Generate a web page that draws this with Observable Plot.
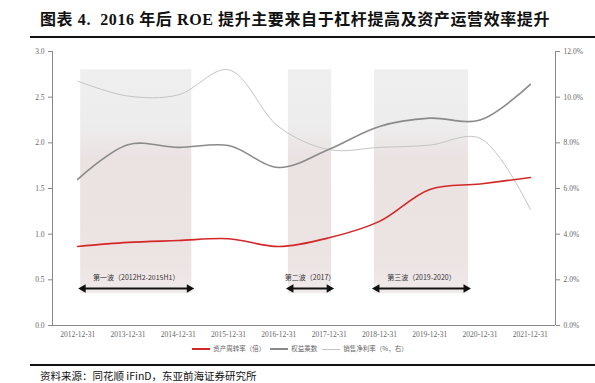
<!DOCTYPE html>
<html><head><meta charset="utf-8">
<script src="https://cdn.jsdelivr.net/npm/d3@7"></script>
<script src="https://cdn.jsdelivr.net/npm/@observablehq/plot@0.6"></script>
<style>
body{margin:0;background:#fff;width:595px;height:383px;overflow:hidden;position:relative;font-family:"Liberation Serif","Noto Sans CJK SC",serif;}
#title{position:absolute;left:40px;top:10px;font-size:16px;line-height:20px;font-weight:bold;color:#111;white-space:nowrap;letter-spacing:0.6px;}
.rule{position:absolute;left:30px;width:565px;height:1.6px;background:#111;}
#chart{position:absolute;left:0;top:40px;}
#legend{position:absolute;top:344px;left:0;width:595px;text-align:center;font-size:6.5px;line-height:9px;color:#666;font-family:"Noto Sans CJK SC",sans-serif;}
#legend span.sw{display:inline-block;width:18px;vertical-align:middle;margin:0 3px 0 5px;}
#source{position:absolute;left:40px;top:369px;font-size:10.5px;line-height:13px;color:#111;font-family:"Noto Sans CJK SC",sans-serif;}
</style></head>
<body>
<div id="title">图表 4.&nbsp;&nbsp;2016 年后 ROE 提升主要来自于杠杆提高及资产运营效率提升</div>
<div class="rule" style="top:36px"></div>
<div id="chart"></div>
<div id="legend"><span class="sw" style="border-top:2px solid #d42727"></span>资产周转率（倍）<span class="sw" style="border-top:2px solid #8a8a8a"></span>权益乘数<span class="sw" style="border-top:1px solid #c4c4c4"></span>销售净利率（%，右）</div>
<div class="rule" style="top:364px"></div>
<div id="source">资料来源：同花顺 iFinD，东亚前海证券研究所</div>
<script>
const dates = ["2012-12-31","2013-12-31","2014-12-31","2015-12-31","2016-12-31","2017-12-31","2018-12-31","2019-12-31","2020-12-31","2021-12-31"];
const assetTurnover = [0.865,0.91,0.93,0.95,0.865,0.96,1.14,1.49,1.55,1.62];
const equityMultiplier = [1.60,1.98,1.95,1.97,1.73,1.93,2.18,2.27,2.25,2.64];
const netMargin = [10.7,10.05,10.1,11.2,8.7,7.7,7.8,7.9,8.2,5.08];
const leftTicks = [0,0.5,1,1.5,2,2.5,3];
const waveLabels = ["第一波（2012H2-2015H1）","第二波（2017）","第三波（2019-2020）"];
const waveStart = [0.06,4.19,5.9];
const waveEnd = [2.27,5.05,7.77];
const waveTop = 2.8, waveBottom = 0.35, arrowY = 0.405, labelY = 0.525;

const idx = dates.map((d,i)=>i);
const rows = idx.map(i=>({i, a:assetTurnover[i], e:equityMultiplier[i], m:netMargin[i]/4}));
const waves = waveLabels.map((l,k)=>({l, x1:waveStart[k], x2:waveEnd[k], xm:(waveStart[k]+waveEnd[k])/2}));

const defs = () => {
  const g = d3.create("svg:defs");
  const lg = g.append("linearGradient").attr("id","waveGrad").attr("x1",0).attr("y1",0).attr("x2",0).attr("y2",1);
  lg.append("stop").attr("offset","0%").attr("stop-color","#efefef");
  lg.append("stop").attr("offset","25%").attr("stop-color","#ededed");
  lg.append("stop").attr("offset","40%").attr("stop-color","#ebe2e2");
  lg.append("stop").attr("offset","85%").attr("stop-color","#ece3e3");
  lg.append("stop").attr("offset","100%").attr("stop-color","#f1eaea");
  return g.node();
};

const plot = Plot.plot({
  width:595, height:302,
  marginLeft:52, marginRight:40, marginTop:11, marginBottom:17,
  style:{fontFamily:"Liberation Serif, serif", fontSize:"7.5px", color:"#666", background:"transparent"},
  x:{domain:[-0.5,9.5]},
  y:{domain:[0,3]},
  marks:[
    defs,
    Plot.rect(waves,{x1:"x1",x2:"x2",y1:waveBottom,y2:waveTop,fill:"url(#waveGrad)"}),
    Plot.axisX({ticks:idx, tickFormat:i=>dates[i], tickSize:0, tickPadding:6, fontSize:7.5, fill:"#666", label:null}),
    Plot.axisY({anchor:"left", ticks:leftTicks, tickFormat:d=>d.toFixed(1), tickSize:4, tickPadding:4, fontSize:7.5, stroke:"#888", fill:"#666", label:null}),
    Plot.axisY({anchor:"right", ticks:leftTicks, tickFormat:d=>(d*4).toFixed(1)+"%", tickSize:4, tickPadding:4, fontSize:7.5, stroke:"#888", fill:"#666", label:null}),
    Plot.ruleX([-0.5,9.5],{stroke:"#888",strokeWidth:1}),
    Plot.ruleY([0],{stroke:"#888",strokeWidth:1}),
    Plot.line(rows,{x:"i",y:"m",curve:"catmull-rom",stroke:"#c4c4c4",strokeWidth:1}),
    Plot.line(rows,{x:"i",y:"e",curve:"catmull-rom",stroke:"#8a8a8a",strokeWidth:1.6}),
    Plot.line(rows,{x:"i",y:"a",curve:"catmull-rom",stroke:"#d42727",strokeWidth:1.6}),
    Plot.link(waves,{x1:d=>d.x1+0.06,x2:d=>d.x2-0.06,y1:arrowY,y2:arrowY,stroke:"#111",strokeWidth:2}),
    Plot.dot(waves,{x:d=>d.x1+0.05,y:arrowY,symbol:"triangle",rotate:-90,r:3.2,fill:"#111"}),
    Plot.dot(waves,{x:d=>d.x2-0.05,y:arrowY,symbol:"triangle",rotate:90,r:3.2,fill:"#111"}),
    Plot.text(waves,{x:"xm",y:labelY,text:"l",fill:"#333",fontSize:7,fontFamily:"Noto Sans CJK SC, sans-serif"})
  ]
});
document.getElementById("chart").appendChild(plot);
</script>
</body></html>
